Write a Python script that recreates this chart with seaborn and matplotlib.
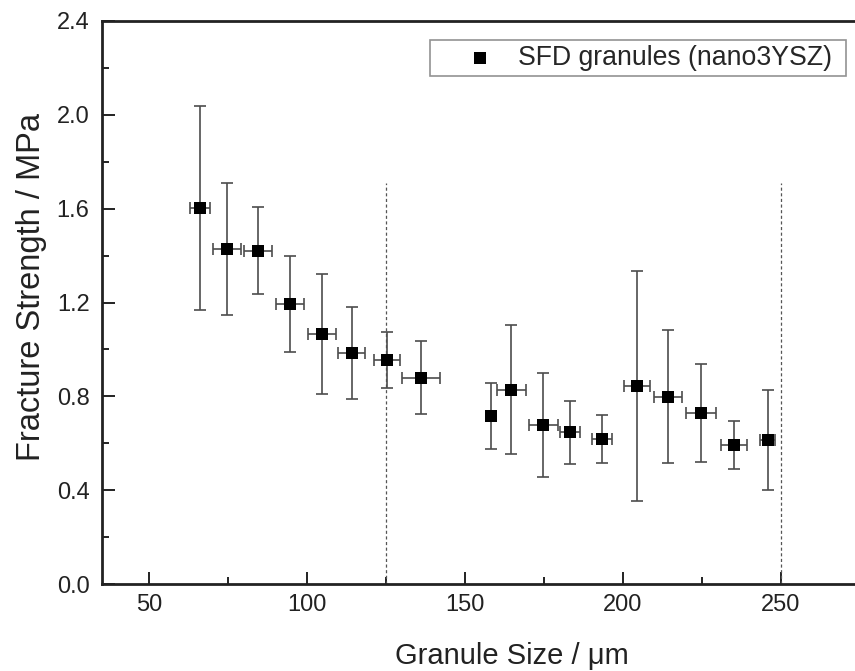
import pandas as pd
import seaborn as sns
import matplotlib.pyplot as plt
from matplotlib.ticker import MultipleLocator

# Granule size (um) and fracture strength (MPa)
granule_size = [66.1, 74.5, 84.5, 94.6, 104.6, 114.1, 125.2, 136.1, 158.1,
                164.6, 174.8, 183.3, 193.3, 204.4, 214.2, 224.8, 235.2, 245.8]
size_err = [3.2, 4.4, 4.5, 4.5, 4.5, 4.2, 4.1, 6.0, 1.5,
            4.6, 4.6, 3.2, 3.2, 4.1, 4.4, 4.7, 4.2, 2.4]
strength = [1.601, 1.428, 1.421, 1.193, 1.066, 0.986, 0.955, 0.880, 0.717,
            0.828, 0.677, 0.647, 0.620, 0.846, 0.798, 0.731, 0.593, 0.615]
strength_err = [0.434, 0.282, 0.186, 0.205, 0.256, 0.197, 0.118, 0.156, 0.142,
                0.275, 0.221, 0.135, 0.103, 0.490, 0.283, 0.209, 0.103, 0.212]
boundaries = [125, 250]
boundary_top = 1.71
series_label = 'SFD granules (nano3YSZ)'

df = pd.DataFrame({'size': granule_size, 'size_err': size_err,
                   'strength': strength, 'strength_err': strength_err})

sns.set_theme(style='ticks')
plt.rcParams['font.family'] = ['Liberation Sans', 'DejaVu Sans']

fig = plt.figure(figsize=(8.55, 6.71), dpi=100)
ax = fig.add_axes([0.1193, 0.1292, 0.8807, 0.8399])

# error bars first, markers on top
ax.errorbar(df['size'], df['strength'], xerr=df['size_err'], yerr=df['strength_err'],
            fmt='none', ecolor='#4d4d4d', elinewidth=1.2, capsize=4, capthick=1.2, zorder=2)
sns.scatterplot(data=df, x='size', y='strength', marker='s', s=85, color='black',
                edgecolor='black', linewidth=0, label=series_label, ax=ax, zorder=3)

# dashed boundaries
ax.vlines(boundaries, 0, boundary_top, colors='#555555', linestyles=(0, (2.5, 2)), linewidth=0.9, zorder=1)

ax.set_xlim(35, 273.5)
ax.set_ylim(0, 2.4)
ax.xaxis.set_major_locator(MultipleLocator(50))
ax.xaxis.set_minor_locator(MultipleLocator(25))
ax.yaxis.set_major_locator(MultipleLocator(0.4))
ax.yaxis.set_minor_locator(MultipleLocator(0.2))
ax.yaxis.set_major_formatter(plt.FormatStrFormatter('%.1f'))

ax.tick_params(which='both', direction='in', top=False, right=False, width=1.4, colors='#222222',
               labelcolor='#222222')
ax.tick_params(which='major', length=9, labelsize=17)
ax.tick_params(axis='x', which='major', pad=7)
ax.tick_params(axis='y', which='major', pad=9)
ax.tick_params(which='minor', length=5)

for side in ['left', 'bottom', 'top']:
    ax.spines[side].set_linewidth(2)
    ax.spines[side].set_color('#222222')
ax.spines['right'].set_visible(False)

ax.set_xlabel('Granule Size / \u03bcm', fontsize=21, color='#222222')
ax.set_ylabel('Fracture Strength / MPa', fontsize=23.5, color='#222222')
ax.xaxis.set_label_coords(0.544, -0.103)
ax.yaxis.set_label_coords(-0.073, 0.5275)

leg = ax.legend(loc='upper left', bbox_to_anchor=(0.4356, 0.90, 0.5525, 0.0658), mode='expand',
                fontsize=19.2, frameon=True, fancybox=False, edgecolor='#777777',
                borderpad=0.18, handlelength=3.4, handletextpad=-0.27, borderaxespad=0)
leg.get_frame().set_linewidth(1.2)

fig.savefig('out.png', dpi=100)
